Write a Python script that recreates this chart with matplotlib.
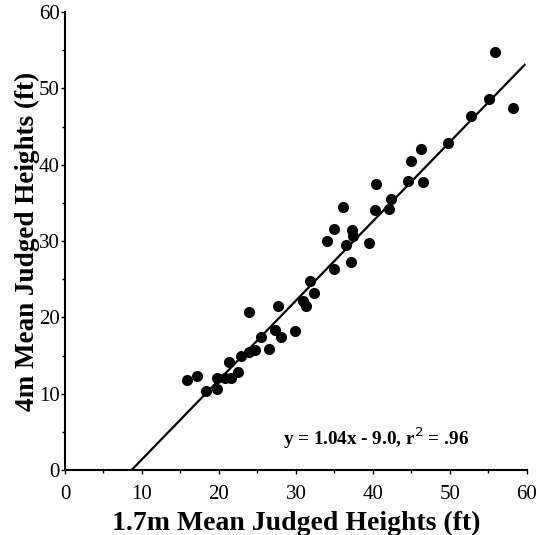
import numpy as np
import matplotlib.pyplot as plt
from matplotlib.ticker import MultipleLocator

# mean judged heights (ft)
h17 = [15.9, 17.1, 18.3, 19.8, 19.8, 20.8, 21.6, 22.5, 21.3, 22.9,
       23.9, 24.7, 26.5, 25.4, 28.1, 27.3, 29.9, 23.9, 27.6, 30.9,
       31.3, 31.8, 32.4, 34.9, 37.1, 34.0, 36.5, 39.5, 37.4, 34.9,
       37.3, 36.1, 40.3, 42.1, 42.4, 40.4, 44.5, 46.5, 45.0, 46.3,
       49.7, 52.7, 55.1, 58.2, 55.8]
h4 = [11.8, 12.3, 10.3, 10.6, 12.1, 12.1, 12.1, 12.8, 14.1, 14.9,
      15.4, 15.7, 15.9, 17.4, 17.4, 18.3, 18.2, 20.7, 21.5, 22.1,
      21.5, 24.8, 23.2, 26.3, 27.3, 30.0, 29.5, 29.8, 30.6, 31.6,
      31.5, 34.4, 34.1, 34.2, 35.5, 37.5, 37.9, 37.7, 40.5, 42.1,
      42.9, 46.4, 48.6, 47.4, 54.8]

slope = 1.04
intercept = -9.0
x_end = 59.7

plt.rcParams['font.family'] = ['Liberation Serif', 'DejaVu Serif']

fig = plt.figure(figsize=(5.43, 5.35), dpi=100)
ax = fig.add_axes([0.1197, 0.1215, 0.8508, 0.856])

ax.scatter(h17, h4, s=64, color='black', zorder=3, linewidths=0)
xl = np.array([-intercept / slope, x_end])
ax.plot(xl, slope * xl + intercept, color='black', lw=1.6)

ax.set_xlim(0, 60)
ax.set_ylim(0, 60)
ax.spines['top'].set_visible(False)
ax.spines['right'].set_visible(False)
ax.spines['left'].set_linewidth(1.5)
ax.spines['bottom'].set_linewidth(1.5)
ax.xaxis.set_major_locator(MultipleLocator(10))
ax.yaxis.set_major_locator(MultipleLocator(10))
ax.xaxis.set_minor_locator(MultipleLocator(5))
ax.yaxis.set_minor_locator(MultipleLocator(5))
ax.tick_params(which='major', length=3, width=1, labelsize=15)
ax.tick_params(axis='x', which='major', pad=8)
ax.tick_params(axis='y', which='major', pad=1)
ax.tick_params(which='minor', length=2, width=1)

ax.set_xlabel('1.7m Mean Judged Heights (ft)', fontsize=20, fontweight='bold', labelpad=5)
ax.set_ylabel('4m Mean Judged Heights (ft)', fontsize=19.5, fontweight='bold', labelpad=-1)

ax.text(0.472, 0.055, 'y = 1.04x - 9.0, r$^2$ = .96', transform=ax.transAxes,
        fontsize=13.8, fontweight='bold', va='baseline')

fig.savefig('out.png', dpi=100)
